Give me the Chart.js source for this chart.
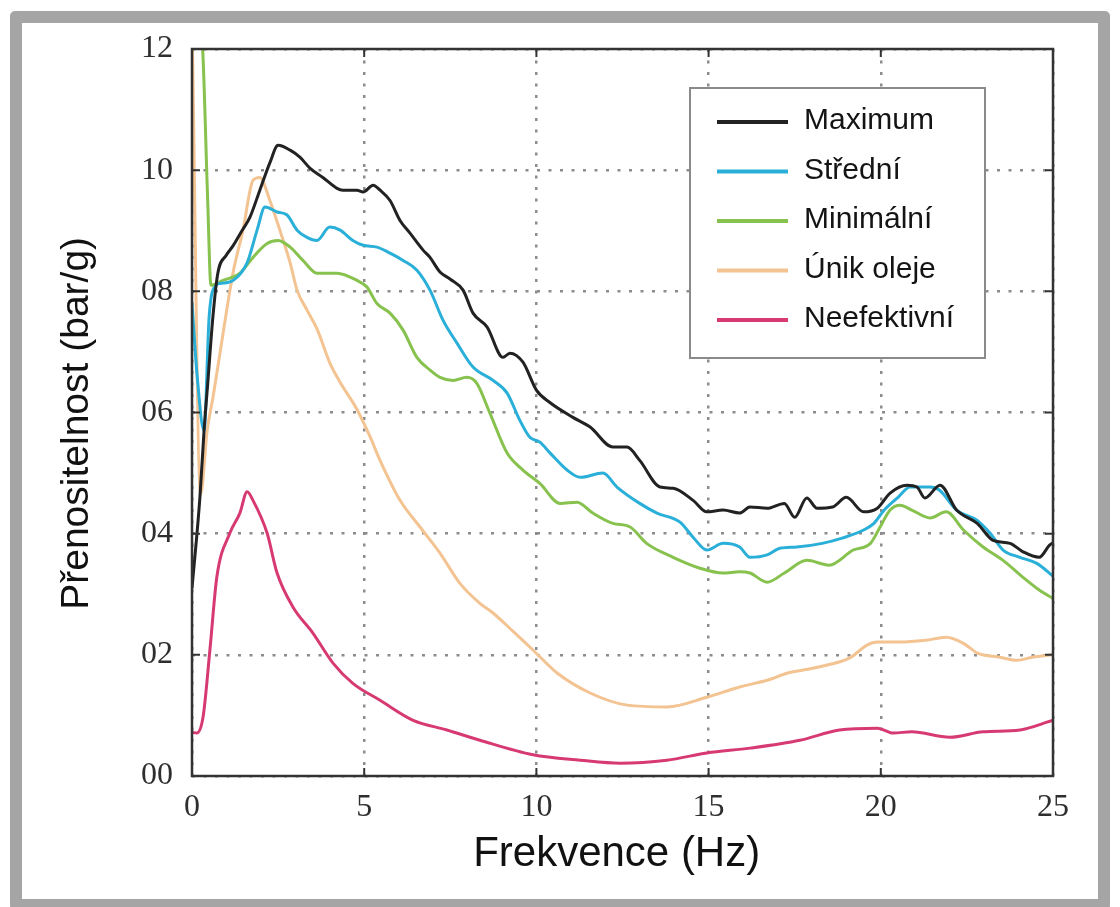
<!DOCTYPE html>
<html>
<head>
<meta charset="utf-8">
<script src="https://cdn.jsdelivr.net/npm/chart.js@4.4.1/dist/chart.umd.min.js"></script>
<style>
  html, body { margin: 0; padding: 0; background: #ffffff; overflow: hidden; }
  #wrap { position: relative; width: 1120px; height: 907px; }
  canvas { position: absolute; left: 0; top: 0; }
  #frame {
    position: absolute; left: 10px; top: 11px; width: 1100px; height: 900px;
    box-sizing: border-box; border: 12px solid #a5a5a5; border-radius: 5px;
    pointer-events: none;
  }
</style>
</head>
<body>
<div id="wrap">
  <canvas id="c" width="1120" height="907"></canvas>
  <div id="frame"></div>
</div>
<script>
// Transmissibility curves (bar/g) versus excitation frequency (Hz)
const seriesNames = ['Maximum', 'Střední', 'Minimální', 'Únik oleje', 'Neefektivní'];

const maximumHz = [0, 0.23, 0.35, 0.46, 0.61, 0.75, 1.0, 1.19, 1.45, 1.68, 1.97, 2.26, 2.5, 2.85, 3.14, 3.43, 3.8, 4.21, 4.38, 4.79, 4.97, 5.26, 5.46, 5.75, 6.04, 6.33, 6.71, 6.91, 7.2, 7.5, 7.87, 8.16, 8.57, 9.03, 9.23, 9.61, 10.0, 10.4, 11.06, 11.56, 12.22, 12.63, 13.0, 13.59, 13.97, 14.55, 14.95, 15.42, 15.9, 16.2, 16.7, 17.2, 17.5, 17.85, 18.15, 18.6, 19.0, 19.5, 19.9, 20.27, 20.76, 21.05, 21.28, 21.72, 22.2, 22.8, 23.26, 23.75, 24.13, 24.6, 24.9, 25];
const maximumVal = [3.1, 4.6, 5.7, 6.5, 7.6, 8.3, 8.6, 8.75, 9.0, 9.22, 9.67, 10.12, 10.41, 10.33, 10.21, 10.03, 9.88, 9.70, 9.67, 9.67, 9.64, 9.75, 9.67, 9.50, 9.17, 8.96, 8.68, 8.56, 8.32, 8.2, 8.02, 7.64, 7.41, 6.91, 6.98, 6.83, 6.37, 6.16, 5.92, 5.76, 5.43, 5.43, 5.21, 4.77, 4.75, 4.55, 4.36, 4.39, 4.34, 4.44, 4.42, 4.50, 4.27, 4.59, 4.42, 4.44, 4.60, 4.36, 4.42, 4.67, 4.80, 4.77, 4.59, 4.80, 4.39, 4.17, 3.89, 3.84, 3.70, 3.61, 3.81, 3.85];

const stredniHz = [0, 0.15, 0.35, 0.5, 0.7, 0.81, 1.19, 1.6, 1.89, 2.12, 2.47, 2.76, 3.05, 3.34, 3.63, 4.0, 4.3, 4.67, 4.97, 5.37, 5.75, 6.13, 6.53, 6.91, 7.29, 7.69, 8.16, 8.74, 9.15, 9.52, 9.81, 10.1, 10.4, 10.89, 11.27, 11.93, 12.34, 13.0, 13.5, 14.17, 14.55, 14.95, 15.42, 15.9, 16.2, 16.7, 17.07, 17.56, 18.3, 18.9, 19.5, 19.8, 20.1, 20.5, 20.85, 21.43, 21.7, 22.2, 22.8, 23.17, 23.55, 24.04, 24.53, 25];
const stredniVal = [7.8, 6.6, 5.7, 7.6, 8.1, 8.13, 8.18, 8.47, 9.01, 9.39, 9.31, 9.26, 9.01, 8.89, 8.84, 9.06, 9.01, 8.84, 8.76, 8.73, 8.63, 8.51, 8.35, 8.02, 7.52, 7.15, 6.75, 6.53, 6.32, 5.87, 5.59, 5.51, 5.33, 5.05, 4.93, 5.0, 4.77, 4.50, 4.34, 4.19, 3.94, 3.73, 3.84, 3.78, 3.61, 3.65, 3.76, 3.78, 3.84, 3.93, 4.06, 4.17, 4.39, 4.60, 4.77, 4.77, 4.72, 4.39, 4.22, 4.01, 3.73, 3.61, 3.51, 3.3];

const minimalniHz = [0, 0.3, 0.45, 0.55, 0.9, 1.39, 1.77, 2.18, 2.5, 2.85, 3.22, 3.63, 4.21, 4.79, 5.08, 5.37, 5.75, 6.13, 6.53, 6.91, 7.2, 7.58, 7.98, 8.27, 8.65, 9.15, 9.61, 10.1, 10.69, 11.18, 11.64, 12.22, 12.72, 13.2, 13.97, 14.75, 15.42, 15.9, 16.2, 16.7, 17.2, 17.85, 18.5, 19.2, 19.7, 19.98, 20.27, 20.56, 20.9, 21.43, 21.9, 22.4, 22.97, 23.55, 24.13, 24.6, 25];
const minimalniVal = [13, 12.1, 9.6, 8.1, 8.18, 8.3, 8.56, 8.79, 8.84, 8.73, 8.51, 8.3, 8.3, 8.18, 8.07, 7.8, 7.64, 7.36, 6.91, 6.70, 6.58, 6.53, 6.58, 6.48, 5.99, 5.33, 5.05, 4.83, 4.50, 4.52, 4.34, 4.17, 4.11, 3.84, 3.61, 3.43, 3.35, 3.37, 3.35, 3.2, 3.35, 3.56, 3.48, 3.73, 3.84, 4.11, 4.39, 4.47, 4.39, 4.26, 4.36, 4.06, 3.78, 3.56, 3.28, 3.07, 2.93];

const unikOlejeHz = [0, 0.25, 0.44, 0.61, 0.9, 1.19, 1.48, 1.77, 1.97, 2.26, 2.55, 2.85, 3.05, 3.34, 3.63, 4.0, 4.3, 4.79, 5.17, 5.46, 6.04, 6.62, 7.2, 7.78, 8.36, 8.74, 9.3, 9.9, 10.6, 11.56, 12.63, 13.79, 14.95, 15.9, 16.7, 17.3, 18.2, 19.1, 19.6, 19.9, 20.56, 21.3, 21.9, 22.4, 22.8, 23.46, 23.95, 24.4, 25];
const unikOlejeVal = [12.5, 4.65, 5.7, 6.25, 7.3, 8.3, 9.01, 9.83, 9.88, 9.5, 9.01, 8.47, 8.02, 7.69, 7.38, 6.82, 6.5, 6.05, 5.6, 5.21, 4.55, 4.11, 3.68, 3.18, 2.85, 2.69, 2.4, 2.08, 1.70, 1.37, 1.17, 1.14, 1.30, 1.47, 1.58, 1.70, 1.80, 1.95, 2.16, 2.21, 2.21, 2.24, 2.29, 2.19, 2.03, 1.96, 1.91, 1.96, 2.0];

const neefektivniHz = [0, 0.14, 0.32, 0.52, 0.72, 1.1, 1.39, 1.6, 1.77, 2.18, 2.47, 2.93, 3.51, 4.1, 4.67, 5.46, 6.42, 7.4, 8.36, 9.9, 11.27, 12.43, 13.79, 14.95, 16.2, 17.65, 18.8, 19.9, 20.36, 20.9, 22.0, 22.97, 24.04, 25];
const neefektivniVal = [0.72, 0.71, 0.97, 2.08, 3.28, 4.01, 4.34, 4.69, 4.55, 4.01, 3.35, 2.79, 2.36, 1.86, 1.53, 1.25, 0.92, 0.76, 0.59, 0.35, 0.26, 0.21, 0.26, 0.38, 0.46, 0.59, 0.76, 0.79, 0.71, 0.73, 0.64, 0.73, 0.76, 0.92];

const xTickLabels = ['0', '5', '10', '15', '20', '25'];
const yTickLabels = ['00', '02', '04', '06', '08', '10', '12'];

const seriesColors = ['#222222', '#2aafd8', '#88c24e', '#f3c392', '#d73a72'];

const seriesHz = [maximumHz, stredniHz, minimalniHz, unikOlejeHz, neefektivniHz];
const seriesVal = [maximumVal, stredniVal, minimalniVal, unikOlejeVal, neefektivniVal];

const datasets = seriesNames.map((name, i) => ({
  label: name,
  data: seriesHz[i].map((hz, k) => ({ x: hz, y: seriesVal[i][k] })),
  borderColor: seriesColors[i],
  backgroundColor: seriesColors[i],
  borderWidth: 3,
  pointRadius: 0,
  cubicInterpolationMode: 'monotone',
  fill: false
}));

// Box around the plot, short inward tick marks and the framed legend
const framePlugin = {
  id: 'plotFrame',
  afterDatasetsDraw(chart, args, opts) {
    const { ctx, chartArea: a, scales } = chart;
    ctx.save();
    ctx.strokeStyle = '#333333';
    ctx.lineWidth = 2.5;
    ctx.setLineDash([]);
    ctx.strokeRect(a.left, a.top, a.right - a.left, a.bottom - a.top);

    ctx.lineWidth = 2;
    const tick = 8;
    scales.x.ticks.forEach(t => {
      const px = scales.x.getPixelForValue(t.value);
      ctx.beginPath();
      ctx.moveTo(px, a.bottom); ctx.lineTo(px, a.bottom - tick);
      ctx.moveTo(px, a.top); ctx.lineTo(px, a.top + tick);
      ctx.stroke();
    });
    scales.y.ticks.forEach(t => {
      const py = scales.y.getPixelForValue(t.value);
      ctx.beginPath();
      ctx.moveTo(a.left, py); ctx.lineTo(a.left + tick, py);
      ctx.moveTo(a.right, py); ctx.lineTo(a.right - tick, py);
      ctx.stroke();
    });

    // legend
    const b = opts.box;
    ctx.fillStyle = '#ffffff';
    ctx.fillRect(b.x, b.y, b.w, b.h);
    ctx.strokeStyle = '#8a8a8a';
    ctx.lineWidth = 2;
    ctx.strokeRect(b.x, b.y, b.w, b.h);
    ctx.font = opts.font;
    ctx.textBaseline = 'middle';
    ctx.textAlign = 'left';
    chart.data.datasets.forEach((ds, i) => {
      const y = b.y + opts.firstRow + i * opts.rowGap;
      ctx.strokeStyle = ds.borderColor;
      ctx.lineWidth = 4;
      ctx.beginPath();
      ctx.moveTo(b.x + opts.lineStart, y);
      ctx.lineTo(b.x + opts.lineEnd, y);
      ctx.stroke();
      ctx.fillStyle = '#141414';
      ctx.fillText(ds.label, b.x + opts.textStart, y - 1);
    });
    ctx.restore();
  }
};

const tickFont = { family: '"Liberation Serif", "Times New Roman", serif', size: 32 };

new Chart(document.getElementById('c'), {
  type: 'line',
  data: { datasets },
  plugins: [framePlugin],
  options: {
    responsive: false,
    animation: false,
    layout: { padding: { top: 49, right: 67, left: 0, bottom: 0 } },
    plugins: {
      legend: { display: false },
      tooltip: { enabled: false },
      plotFrame: {
        box: { x: 690, y: 88, w: 295, h: 270 },
        firstRow: 34,
        rowGap: 49.5,
        lineStart: 27,
        lineEnd: 98,
        textStart: 114,
        font: '30px "Liberation Sans", Arial, sans-serif'
      }
    },
    scales: {
      x: {
        type: 'linear',
        min: 0,
        max: 25,
        afterFit: s => { s.height = 131; },
        ticks: {
          stepSize: 5,
          padding: 12,
          color: '#2e2e2e',
          font: tickFont,
          maxRotation: 0,
          callback: v => xTickLabels[Math.round(v / 5)]
        },
        grid: { color: '#8c8c8c', lineWidth: 2.5, drawTicks: false },
        border: { display: false, dash: [3, 8.5] },
        title: {
          display: true,
          text: 'Frekvence (Hz)\u00A0',
          color: '#111111',
          font: { family: '"Liberation Sans", Arial, sans-serif', size: 42 },
          padding: { top: 0, bottom: 27 }
        }
      },
      y: {
        min: 0,
        max: 12,
        afterFit: s => { s.width = 192; },
        ticks: {
          stepSize: 2,
          padding: 19,
          color: '#2e2e2e',
          font: tickFont,
          callback: v => yTickLabels[Math.round(v / 2)]
        },
        grid: { color: '#8c8c8c', lineWidth: 2.5, drawTicks: false },
        border: { display: false, dash: [3, 8.5] },
        title: {
          display: true,
          text: 'Přenositelnost (bar/g)\u00A0\u00A0',
          color: '#111111',
          font: { family: '"Liberation Sans", Arial, sans-serif', size: 39 },
          padding: { top: 54, bottom: 0 }
        }
      }
    }
  }
});
</script>
</body>
</html>
